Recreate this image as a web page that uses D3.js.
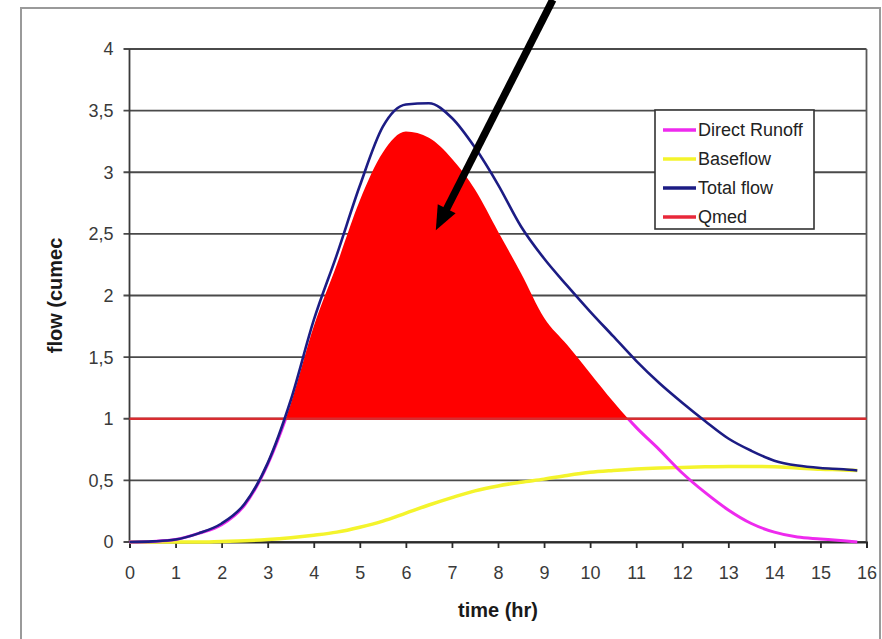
<!DOCTYPE html>
<html>
<head>
<meta charset="utf-8">
<script src="https://cdn.jsdelivr.net/npm/d3@7"></script>
<style>
  body { margin: 0; background: #fff; }
  svg { display: block; font-family: "Liberation Sans", Arial, sans-serif; }
</style>
</head>
<body>
<svg class="hydrograph"></svg>
<script>
// time in hours, flows in cumec
var hours = [0, 0.5, 1, 1.5, 2, 2.5, 3, 3.5, 4, 4.5, 5, 5.5, 6, 6.5, 7, 7.5, 8, 8.5,
  9, 9.5, 10, 10.5, 11, 11.5, 12, 12.5, 13, 13.5, 14, 14.5, 15, 15.5, 15.8];
var directRunoff = [0, 0.005, 0.02, 0.07, 0.14, 0.3, 0.63, 1.12, 1.75, 2.25, 2.77, 3.16, 3.33, 3.28, 3.11, 2.86, 2.52, 2.18,
  1.82, 1.6, 1.37, 1.14, 0.93, 0.75, 0.56, 0.4, 0.26, 0.15, 0.08, 0.04, 0.025, 0.01, 0];
var baseflow = [0, 0, 0, 0, 0.005, 0.01, 0.02, 0.035, 0.055, 0.08, 0.12, 0.17, 0.235, 0.3, 0.36, 0.415, 0.455, 0.485,
  0.51, 0.54, 0.565, 0.58, 0.592, 0.6, 0.605, 0.61, 0.613, 0.613, 0.61, 0.6, 0.59, 0.585, 0.58];
var totalFlow = [0, 0.005, 0.02, 0.07, 0.15, 0.31, 0.64, 1.15, 1.8, 2.33, 2.89, 3.37, 3.55, 3.56, 3.44, 3.2, 2.9, 2.56,
  2.3, 2.08, 1.87, 1.67, 1.47, 1.29, 1.13, 0.98, 0.84, 0.74, 0.66, 0.62, 0.6, 0.59, 0.58];
var qmed = 1;

var xTicks = d3.range(0, 17);
var yTicks = [0, 0.5, 1, 1.5, 2, 2.5, 3, 3.5, 4];
var yTickLabels = ["0", "0,5", "1", "1,5", "2", "2,5", "3", "3,5", "4"];

var legendNames = ["Direct Runoff", "Baseflow", "Total flow", "Qmed"];
var legendColors = ["#ee2aee", "#f4f42c", "#1c1c84", "#e8283a"];

// arrow annotation, [time, flow] of tail and tip
var arrowTail = [9.19, 4.4];
var arrowTip = [6.65, 2.53];

var width = 882;
var height = 639;

var svg = d3.select(".hydrograph")
  .attr("width", width)
  .attr("height", height);

// outer chart frame
svg.append("rect")
  .attr("x", 21).attr("y", 8)
  .attr("width", 859).attr("height", 660)
  .attr("fill", "#fff")
  .attr("stroke", "#9a9a9a")
  .attr("stroke-width", 2);

var x = d3.scaleLinear().domain([0, 16]).range([129.5, 866.5]);
var y = d3.scaleLinear().domain([0, 4]).range([542, 49]);

var series = hours.map(function(h, i) {
  return { t: h, r: directRunoff[i], b: baseflow[i], q: totalFlow[i] };
});

// horizontal gridlines
svg.append("g")
  .selectAll("line")
  .data(yTicks)
  .enter().append("line")
  .attr("x1", x(0) - 6)
  .attr("x2", x(16))
  .attr("y1", function(d) { return y(d); })
  .attr("y2", function(d) { return y(d); })
  .attr("stroke", "#4a4a4a")
  .attr("stroke-width", 1.8);

// y tick labels
svg.append("g")
  .selectAll("text")
  .data(yTicks)
  .enter().append("text")
  .attr("x", x(0) - 16)
  .attr("y", function(d) { return y(d); })
  .attr("dy", "0.36em")
  .attr("text-anchor", "end")
  .attr("font-size", 18)
  .attr("fill", "#3a3a3a")
  .text(function(d, i) { return yTickLabels[i]; });

// left axis and right border
svg.append("line")
  .attr("x1", x(0)).attr("x2", x(0))
  .attr("y1", y(4)).attr("y2", y(0))
  .attr("stroke", "#3a3a3a").attr("stroke-width", 1.8);
svg.append("line")
  .attr("x1", x(16)).attr("x2", x(16))
  .attr("y1", y(4)).attr("y2", y(0))
  .attr("stroke", "#5a5a5a").attr("stroke-width", 1.8);

// x axis
var xAxis = d3.axisBottom(x)
  .tickValues(xTicks)
  .tickSize(6)
  .tickPadding(18)
  .tickFormat(d3.format("d"));
var gx = svg.append("g")
  .attr("transform", "translate(0," + y(0) + ")")
  .call(xAxis);
gx.select(".domain").attr("stroke", "#2a2a2a").attr("stroke-width", 2);
gx.selectAll(".tick line").attr("stroke", "#2a2a2a").attr("stroke-width", 1.8);
gx.selectAll(".tick text")
  .attr("font-size", 18)
  .attr("font-family", "Liberation Sans, Arial, sans-serif")
  .attr("fill", "#3a3a3a");

var line = function(key) {
  return d3.line()
    .x(function(d) { return x(d.t); })
    .y(function(d) { return y(d[key]); })
    .curve(d3.curveMonotoneX);
};

svg.append("path")
  .datum(series)
  .attr("d", line("b"))
  .attr("fill", "none")
  .attr("stroke", legendColors[1])
  .attr("stroke-width", 3.5);

// runoff line only shows where it is under Qmed, the red area hides the rest
svg.append("clipPath")
  .attr("id", "belowQmed")
  .append("rect")
  .attr("x", 0).attr("y", y(qmed))
  .attr("width", width)
  .attr("height", height - y(qmed));

svg.append("path")
  .datum(series)
  .attr("clip-path", "url(#belowQmed)")
  .attr("d", line("r"))
  .attr("fill", "none")
  .attr("stroke", legendColors[0])
  .attr("stroke-width", 3);

// red area: direct runoff above Qmed
svg.append("clipPath")
  .attr("id", "aboveQmed")
  .append("rect")
  .attr("x", x(0)).attr("y", 0)
  .attr("width", x(16) - x(0))
  .attr("height", y(qmed));

svg.append("path")
  .datum(series)
  .attr("clip-path", "url(#aboveQmed)")
  .attr("d", d3.area()
    .x(function(d) { return x(d.t); })
    .y0(y(qmed))
    .y1(function(d) { return y(d.r); })
    .curve(d3.curveMonotoneX))
  .attr("fill", "#ff0000");

svg.append("line")
  .attr("x1", x(0)).attr("x2", x(16))
  .attr("y1", y(qmed)).attr("y2", y(qmed))
  .attr("stroke", "#d82c30")
  .attr("stroke-width", 2.5);

svg.append("path")
  .datum(series)
  .attr("d", line("q"))
  .attr("fill", "none")
  .attr("stroke", legendColors[2])
  .attr("stroke-width", 2.6);

// axis titles
svg.append("text")
  .attr("x", x(8))
  .attr("y", 617)
  .attr("text-anchor", "middle")
  .attr("font-size", 20)
  .attr("font-weight", "bold")
  .attr("fill", "#1a1a1a")
  .text("time (hr)");

svg.append("text")
  .attr("transform", "translate(62," + y(2) + ") rotate(-90)")
  .attr("text-anchor", "middle")
  .attr("font-size", 20)
  .attr("font-weight", "bold")
  .attr("fill", "#1a1a1a")
  .text("flow (cumec");

// legend
var legend = svg.append("g").attr("transform", "translate(655,110)");
legend.append("rect")
  .attr("width", 159).attr("height", 119)
  .attr("fill", "#fff")
  .attr("stroke", "#333")
  .attr("stroke-width", 1.6);
var items = legend.selectAll("g.item")
  .data(legendNames)
  .enter().append("g")
  .attr("class", "item")
  .attr("transform", function(d, i) { return "translate(0," + (20 + i * 29) + ")"; });
items.append("line")
  .attr("x1", 8).attr("x2", 41)
  .attr("stroke", function(d, i) { return legendColors[i]; })
  .attr("stroke-width", 3.5);
items.append("text")
  .attr("x", 43)
  .attr("dy", "0.36em")
  .attr("font-size", 18)
  .attr("fill", "#222")
  .text(function(d) { return d; });

// black arrow pointing into the red area
var tx = x(arrowTail[0]), ty = y(arrowTail[1]);
var px = x(arrowTip[0]), py = y(arrowTip[1]);
var len = Math.sqrt((px - tx) * (px - tx) + (py - ty) * (py - ty));
var ux = (px - tx) / len, uy = (py - ty) / len;
var headLen = 24, headHalf = 10;
svg.append("line")
  .attr("x1", tx).attr("y1", ty)
  .attr("x2", px - ux * (headLen - 4)).attr("y2", py - uy * (headLen - 4))
  .attr("stroke", "#000")
  .attr("stroke-width", 7.5);
svg.append("polygon")
  .attr("points", [
    [px, py],
    [px - ux * headLen - uy * headHalf, py - uy * headLen + ux * headHalf],
    [px - ux * headLen + uy * headHalf, py - uy * headLen - ux * headHalf]
  ].map(function(p) { return p.join(","); }).join(" "))
  .attr("fill", "#000");
</script>
</body>
</html>
